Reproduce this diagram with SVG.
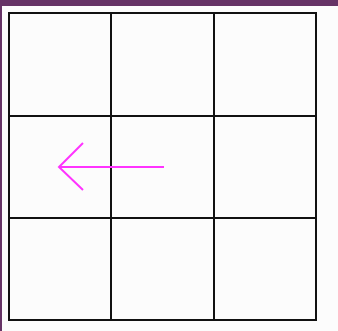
<svg xmlns="http://www.w3.org/2000/svg" width="338" height="331" viewBox="0 0 338 331">
<style>
.grid line{stroke:#111;stroke-width:2;stroke-linecap:square}
.arrow{stroke:#ff33ff;stroke-width:2;fill:none}
</style>
<rect x="0" y="0" width="338" height="331" fill="#fcfcfc"/>
<rect x="0" y="0" width="338" height="6" fill="#663366"/>
<rect x="0" y="0" width="2" height="331" fill="#663366"/>
<g id="grid" class="grid">
<line x1="9" y1="13" x2="316" y2="13"/>
<line x1="9" y1="116" x2="316" y2="116"/>
<line x1="9" y1="218" x2="316" y2="218"/>
<line x1="9" y1="320" x2="316" y2="320"/>
<line x1="9" y1="13" x2="9" y2="320"/>
<line x1="111" y1="13" x2="111" y2="320"/>
<line x1="214" y1="13" x2="214" y2="320"/>
<line x1="316" y1="13" x2="316" y2="320"/>
</g>
<g id="connectors">
<path class="arrow" d="M164,167 L59,167 M83,143 L59,167 L83,190"/>
</g>
</svg>
